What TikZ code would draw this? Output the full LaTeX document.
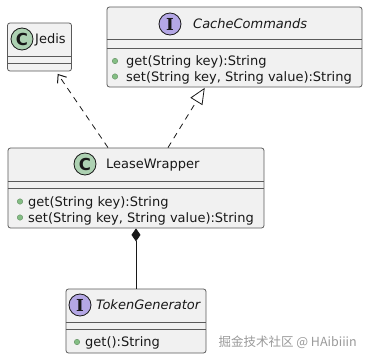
\documentclass[tikz,border=0pt]{standalone}
\usepackage{fontspec}
\setmainfont{DejaVu Sans}
\newfontfamily\ifacefont{DejaVu Serif}
\newfontfamily\cjkfont{Noto Sans CJK SC}
\usetikzlibrary{positioning,arrows.meta,calc}
\definecolor{umlFill}{HTML}{F1F1F1}
\definecolor{umlLine}{HTML}{5A5A5A}
\definecolor{umlInk}{HTML}{181818}
\definecolor{umlClass}{HTML}{ADD1B2}
\definecolor{umlIface}{HTML}{B4A7E5}
\definecolor{umlDot}{HTML}{84BE84}
\definecolor{umlMark}{HTML}{9A9A9A}
\tikzset{
  classbox/.style={draw=umlLine,fill=umlFill,rounded corners=2.5pt,
    line width=0.8pt,inner sep=0pt},
  kindcircle/.style={circle,draw=umlInk,line width=0.8pt,minimum size=22pt,
    inner sep=0pt,text=umlInk},
  classname/.style={anchor=base west,inner sep=0pt,text=umlInk,
    font=\fontsize{13}{13}\selectfont},
  membertext/.style={anchor=base west,inner sep=0pt,text=umlInk,
    font=\fontsize{13}{13}\selectfont},
  publicdot/.style={circle,fill=umlDot,draw=umlDot!75!black,line width=0.4pt,
    minimum size=5.5pt,inner sep=0pt},
  sepline/.style={draw=umlLine,line width=0.8pt},
  deparrow/.style={-{Straight Barb[length=7pt,width=11pt,line width=1pt]},line width=0.8pt,
    draw=umlInk,dash pattern=on 6pt off 5pt},
  implarrow/.style={-{Triangle[open,length=16pt,width=14pt,fill=white]},
    line width=0.8pt,draw=umlInk,dash pattern=on 6pt off 5pt},
  composearrow/.style={{Diamond[length=13pt,width=9pt]}-,line width=0.8pt,
    draw=umlInk}
}

\begin{document}
\begin{tikzpicture}[x=1pt,y=-1pt]
    \fill[white] (0,0) rectangle (368,359);
    \useasboundingbox (0,0) rectangle (368,359);
    % class boxes
    \node[classbox,minimum width=64pt,minimum height=48pt] (jedis) at (39.5,47) {};
    \node[classbox,minimum width=255pt,minimum height=80pt] (cache) at (234.5,47) {};
    \node[classbox,minimum width=256pt,minimum height=80pt] (lease) at (136,188) {};
    \node[classbox,minimum width=140pt,minimum height=64pt] (token) at (136,321) {};
    % separators
    \foreach \cls/\y in {jedis/56,jedis/63,cache/39,cache/48,lease/181,lease/188,token/322,token/329}
      \draw[sepline] (\cls.west |- 0,\y) -- (\cls.east |- 0,\y);
    % headers
    \node[kindcircle,fill=umlClass] (jedisC) at (22,39) {\fontsize{16.5}{16.5}\selectfont\bfseries C};
    \node[classname] (jedisName) at (35,43.5) {Jedis};
    \node[kindcircle,fill=umlIface] (cacheI) at (170,24) {\ifacefont\fontsize{16.5}{16.5}\selectfont\bfseries I};
    \node[classname,font=\fontsize{13}{13}\selectfont\itshape] (cacheName) at (193,28.5) {CacheCommands};
    \node[kindcircle,fill=umlClass] (leaseC) at (85,164) {\fontsize{16.5}{16.5}\selectfont\bfseries C};
    \node[classname] (leaseName) at (106,168.5) {LeaseWrapper};
    \node[kindcircle,fill=umlIface] (tokenI) at (80,305) {\ifacefont\fontsize{16.5}{16.5}\selectfont\bfseries I};
    \node[classname,font=\fontsize{13}{13}\selectfont\itshape] (tokenName) at (96,309.5) {TokenGenerator};
    % members
    \foreach \tag/\dx/\tx/\y/\txt in {cacheGet/115/126/65.5/{get(String key):String},
        cacheSet/115/126/81/{set(String key, String value):String},
        leaseGet/20/28/206/{get(String key):String},
        leaseSet/20/28/222/{set(String key, String value):String},
        tokenGet/77/85/346.5/{get():String}} {
      \node[publicdot] (\tag Dot) at (\dx,\y-4.5) {};
      \node[membertext] (\tag) at (\tx,\y) {\txt};
    }
    % relations
    \draw[deparrow,shorten >=3pt] (lease.north -| 108,0) -- (jedis.south -| 56,0);
    \draw[implarrow,shorten >=0.5pt] (lease.north -| 168,0) -- (cache.south -| 205,0);
    \draw[composearrow] (lease.south) -- (token.north);
    % watermark
    \node[anchor=east,inner sep=0pt,text=umlMark,font=\cjkfont\fontsize{12.5}{12.5}\selectfont] (mark) at (357,342) {掘金技术社区 @ HAibiiin};
  \end{tikzpicture}
\end{document}
